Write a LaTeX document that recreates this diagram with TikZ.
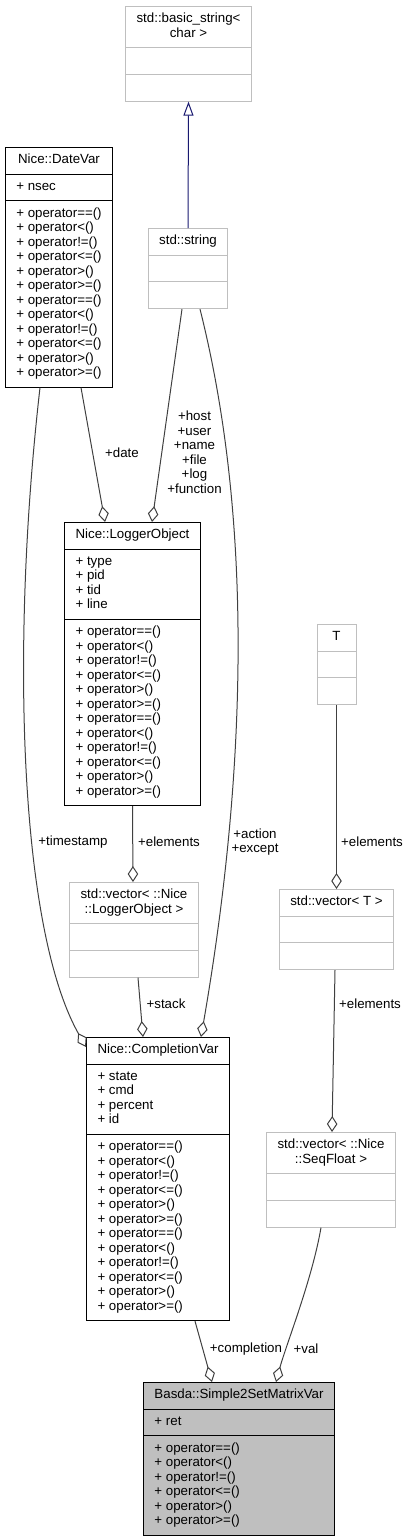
\documentclass[tikz,border=0pt]{standalone}
\usepackage{fontspec}
\setmainfont{Liberation Sans}
\usepackage{xcolor}
\usetikzlibrary{shapes.multipart,arrows.meta,positioning}

\definecolor{grey75}{HTML}{BFBFBF}
\definecolor{grey25}{HTML}{404040}
\definecolor{navyline}{HTML}{191970}

\newcommand{\classfont}{\fontsize{13.3}{14.5}\selectfont}
\newcommand{\mtitle}[1]{\begin{tabular}{@{}c@{}}#1\end{tabular}}
\newcommand{\mlist}[1]{\begin{tabular}{@{}l@{}}#1\end{tabular}}
\newcommand{\mempty}{\mlist{\strut}}
\newcommand{\opsix}{+ operator==()\\+ operator<()\\+ operator!=()\\+ operator<=()\\+ operator>()\\+ operator>=()}

\tikzset{
    classbox/.style={rectangle split, rectangle split parts=3,
        rectangle split part align={center,left,left},
        draw=black, fill=white, line width=1pt,
        inner xsep=11pt, inner ysep=5.6pt, font=\classfont},
    extbox/.style={classbox, draw=grey75},
    mainbox/.style={classbox, fill=grey75},
    member/.style={draw=grey25, line width=1pt, -{Diamond[open,length=16pt,width=10.5pt]}},
    inherit/.style={draw=navyline, line width=1pt, -{Triangle[open,length=14pt,width=10pt]}},
    lbl/.style={font=\classfont, align=center, inner sep=0pt}
}

\begin{document}
\begin{tikzpicture}[x=1pt,y=-1pt]
    \useasboundingbox (0,0) rectangle (410,1537);

    %top
    \node[extbox, anchor=north] (basic) at (188.5,6) {\mtitle{std::basic\_string<\\char >}\nodepart{two}\mempty\nodepart{three}\mempty};
    \node[extbox, anchor=north] (string) at (188,228) {\mtitle{std::string}\nodepart{two}\mempty\nodepart{three}\mempty};
    \node[classbox, anchor=north] (datevar) at (59,147) {\mtitle{Nice::DateVar}\nodepart{two}\mlist{+ nsec}\nodepart{three}\mlist{\opsix\\\opsix}};

    %middle
    \node[classbox, anchor=north] (logger) at (132.5,522) {\mtitle{Nice::LoggerObject}\nodepart{two}\mlist{+ type\\+ pid\\+ tid\\+ line}\nodepart{three}\mlist{\opsix\\\opsix}};
    \node[extbox, anchor=north, minimum width=39pt] (tclass) at (336.5,624) {\mtitle{T}\nodepart{two}\mempty\nodepart{three}\mempty};

    %vectors
    \node[extbox, anchor=north] (veclogger) at (134,882) {\mtitle{std::vector< ::Nice\\::LoggerObject >}\nodepart{two}\mempty\nodepart{three}\mempty};
    \node[extbox, anchor=north] (vect) at (336.5,889) {\mtitle{std::vector< T >}\nodepart{two}\mempty\nodepart{three}\mempty};
    \node[extbox, anchor=north] (seqfloat) at (331,1132) {\mtitle{std::vector< ::Nice\\::SeqFloat >}\nodepart{two}\mempty\nodepart{three}\mempty};

    %bottom
    \node[classbox, anchor=north] (completion) at (158,1037) {\mtitle{Nice::CompletionVar}\nodepart{two}\mlist{+ state\\+ cmd\\+ percent\\+ id}\nodepart{three}\mlist{\opsix\\\opsix}};
    \node[mainbox, anchor=north] (simple) at (239,1382) {\mtitle{Basda::Simple2SetMatrixVar}\nodepart{two}\mlist{+ ret}\nodepart{three}\mlist{\opsix}};

    %inheritance
    \draw[inherit] (string.north) -- (basic.south);

    %members
    \draw[member] ([xshift=22pt]datevar.south) -- ([xshift=-27.5pt]logger.north);
    \draw[member] ([xshift=-6pt]string.south) -- ([xshift=19.5pt]logger.north);
    \draw[member] ([xshift=-19pt]datevar.south) .. controls (10,650) and (20,930) .. ([yshift=-10pt]completion.north west);
    \draw[member] ([xshift=12pt]string.south) .. controls (258,540) and (242,800) .. ([xshift=43pt]completion.north);
    \draw[member] (logger.south) -- ([xshift=-1pt]veclogger.north);
    \draw[member] ([xshift=4pt]veclogger.south) -- ([xshift=-15pt]completion.north);
    \draw[member] (tclass.south) -- (vect.north);
    \draw[member] ([xshift=-1.5pt]vect.south) -- ([xshift=1pt]seqfloat.north);
    \draw[member] ([xshift=37pt]completion.south) -- ([xshift=-27pt]simple.north);
    \draw[member] ([xshift=-10pt]seqfloat.south) .. controls (312,1280) and (286,1345) .. ([xshift=37pt]simple.north);

    %labels
    \begin{scope}[every node/.style={lbl}]
        \node (ldate) at (122,453) {+date};
        \node (lhost) at (194.5,452) {+host\\+user\\+name\\+file\\+log\\+function};
        \node (lstamp) at (73,842) {+timestamp};
        \node (laction) at (255,842) {+action\\+except};
        \node (lelemlog) at (169,842) {+elements};
        \node (lstack) at (166,1004) {+stack};
        \node (lelemt) at (372,842) {+elements};
        \node (lelemseq) at (370,1004) {+elements};
        \node (lcompl) at (246,1349) {+completion};
        \node (lval) at (306,1349) {+val};
    \end{scope}
\end{tikzpicture}
\end{document}
